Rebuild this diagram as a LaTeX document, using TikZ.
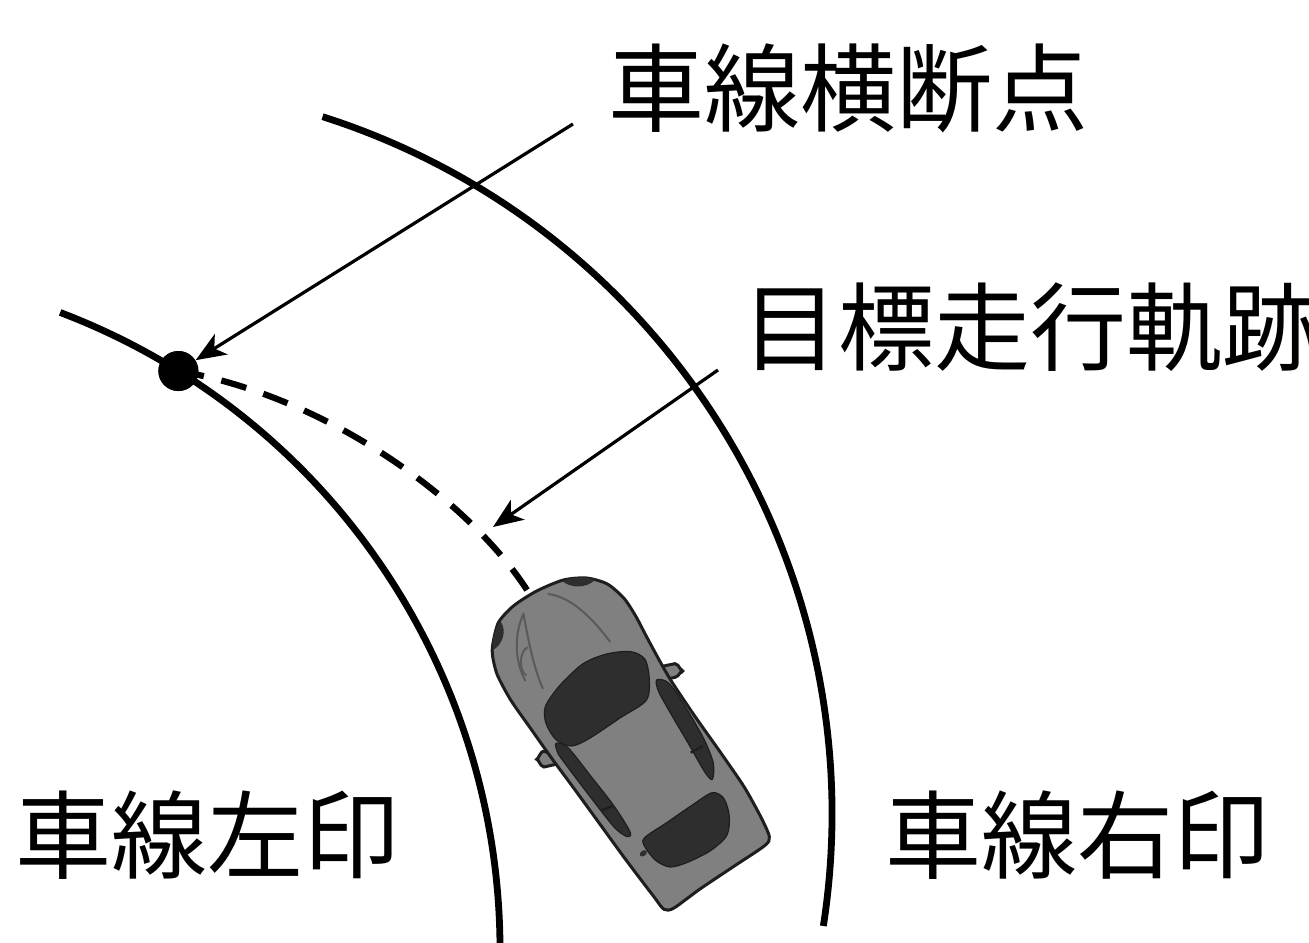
\documentclass[tikz,border=0pt]{standalone}
\usepackage{fontspec}
\newfontfamily\jp{Noto Sans CJK JP}
\usetikzlibrary{arrows.meta,calc}

\definecolor{bodygray}{HTML}{808080}
\definecolor{glass}{HTML}{2E2E2E}
\definecolor{crease}{HTML}{5A5A5A}
\definecolor{rim}{HTML}{1E1E1E}

\begin{document}
\begin{tikzpicture}[x=0.5pt,y=0.5pt,
  lane/.style={line width=3.4pt},
  traj/.style={line width=3.1pt, dash pattern=on 13pt off 9pt},
  pointer/.style={line width=1.6pt, -{Stealth[length=15pt,width=12pt,inset=4pt]}},
  jtext/.style={font=\jp\fontsize{48}{48}\selectfont, inner sep=0pt},
  dotmark/.style={circle, fill=black, inner sep=0pt, minimum size=20pt},
  carbody/.style={fill=bodygray, draw=rim, line width=1.5pt},
  window/.style={fill=glass, draw=rim, line width=0.6pt},
  hoodline/.style={draw=crease, line width=1pt, line cap=round}]
\useasboundingbox (0,0) rectangle (1309,942);
\clip (0,0) rectangle (1309,942);

% lane markings: two arcs of the curve
\coordinate (lc) at (-182,-8);
\coordinate (rc) at (100,128);
\draw[lane] ($(lc)+(69.2:682)$) arc[start angle=69.2, end angle=-3, radius=682];
\draw[lane] ($(rc)+(72.3:732)$) arc[start angle=72.3, end angle=-8.8, radius=732];

% planned path from the crossing point to the car
\coordinate (nose) at (527,352);
\node[dotmark] (dot) at ($(lc)+(58.1:682)$) {};
\draw[traj] (dot.center) .. controls (330,545) and (470,440) .. (nose);
\node[dotmark] at (dot) {};

% car seen from above
\begin{scope}[shift={(480,382)}, xscale=1/3, yscale=-1/3]
  % mirrors
  \filldraw[carbody] (532,322) -- (585,311) to[out=0,in=90] (608,333)
        to[out=-90,in=0] (585,352) -- (548,360) -- cycle;
  \filldraw[carbody] (228,586) -- (192,574) to[out=190,in=90] (170,598)
        to[out=-90,in=180] (192,621) -- (232,612) -- cycle;
  % body
  \filldraw[carbody] plot[smooth cycle, tension=0.45] coordinates {
    (38,255) (55,188) (100,138) (170,93) (250,60) (320,54) (382,72)
    (432,115) (467,168) (497,225) (532,290) (572,360) (642,465)
    (722,578) (792,680) (842,770) (868,830) (854,857) (760,920)
    (660,987) (582,1044) (552,1048) (520,1008) (438,900) (358,790)
    (278,680) (213,592) (148,500) (92,420) (52,345) (38,290)};
  % headlight shadows
  \fill[glass] (248,64) .. controls (282,48) and (316,48) .. (344,61)
        .. controls (318,84) and (275,86) .. (248,64) -- cycle;
  \fill[glass] (62,184) .. controls (43,205) and (35,240) .. (39,270)
        .. controls (66,255) and (82,215) .. (62,184) -- cycle;
  % bonnet creases
  \draw[hoodline] (205,102) .. controls (280,112) and (345,185) .. (390,245);
  \draw[hoodline] (130,160) .. controls (145,240) and (160,320) .. (188,385);
  \draw[hoodline] (128,166) .. controls (104,225) and (102,300) .. (136,362);
  \draw[hoodline] (142,262) .. controls (118,275) and (116,330) .. (138,346);
  % windscreen and rear window
  \filldraw[window] plot[smooth cycle, tension=0.5] coordinates {
    (196,440) (238,378) (308,312) (380,282) (452,275) (495,298)
    (508,360) (498,422) (420,474) (330,534) (275,558) (228,539) (198,490)};
  \filldraw[window] plot[smooth cycle, tension=0.5] coordinates {
    (492,835) (560,788) (640,733) (697,698) (732,716) (748,770)
    (740,827) (690,873) (620,908) (570,921) (528,902) (497,864)};
  % side windows
  \filldraw[window] plot[smooth cycle, tension=0.5] coordinates {
    (530,360) (567,370) (622,450) (673,540) (700,610) (697,658)
    (675,637) (623,547) (573,462) (536,395)};
  \filldraw[window] plot[smooth cycle, tension=0.5] coordinates {
    (228,550) (264,563) (332,648) (402,738) (450,815) (442,830)
    (403,802) (328,707) (260,617) (234,580)};
  \draw[rim, line width=1.2pt] (632,578) -- (668,558);
  \draw[rim, line width=1.2pt] (362,752) -- (398,738);
  % fuel cap
  \fill[glass, rotate around={-35:(490,880)}] (490,880) ellipse[x radius=12, y radius=8];
\end{scope}

% pointers
\coordinate (p1) at (573,818);
\draw[pointer] (p1) -- (dot);
\coordinate (p2) at (718,572);
\coordinate (p2tip) at (493,415);
\draw[pointer] (p2) -- (p2tip);

% labels
\node[jtext] (cross) at (848,854) {車線横断点};
\node[jtext, anchor=west] (target) at (742,615) {目標走行軌跡};
\node[jtext] (leftmark) at (207,107) {車線左印};
\node[jtext] (rightmark) at (1077,107) {車線右印};
\end{tikzpicture}
\end{document}
